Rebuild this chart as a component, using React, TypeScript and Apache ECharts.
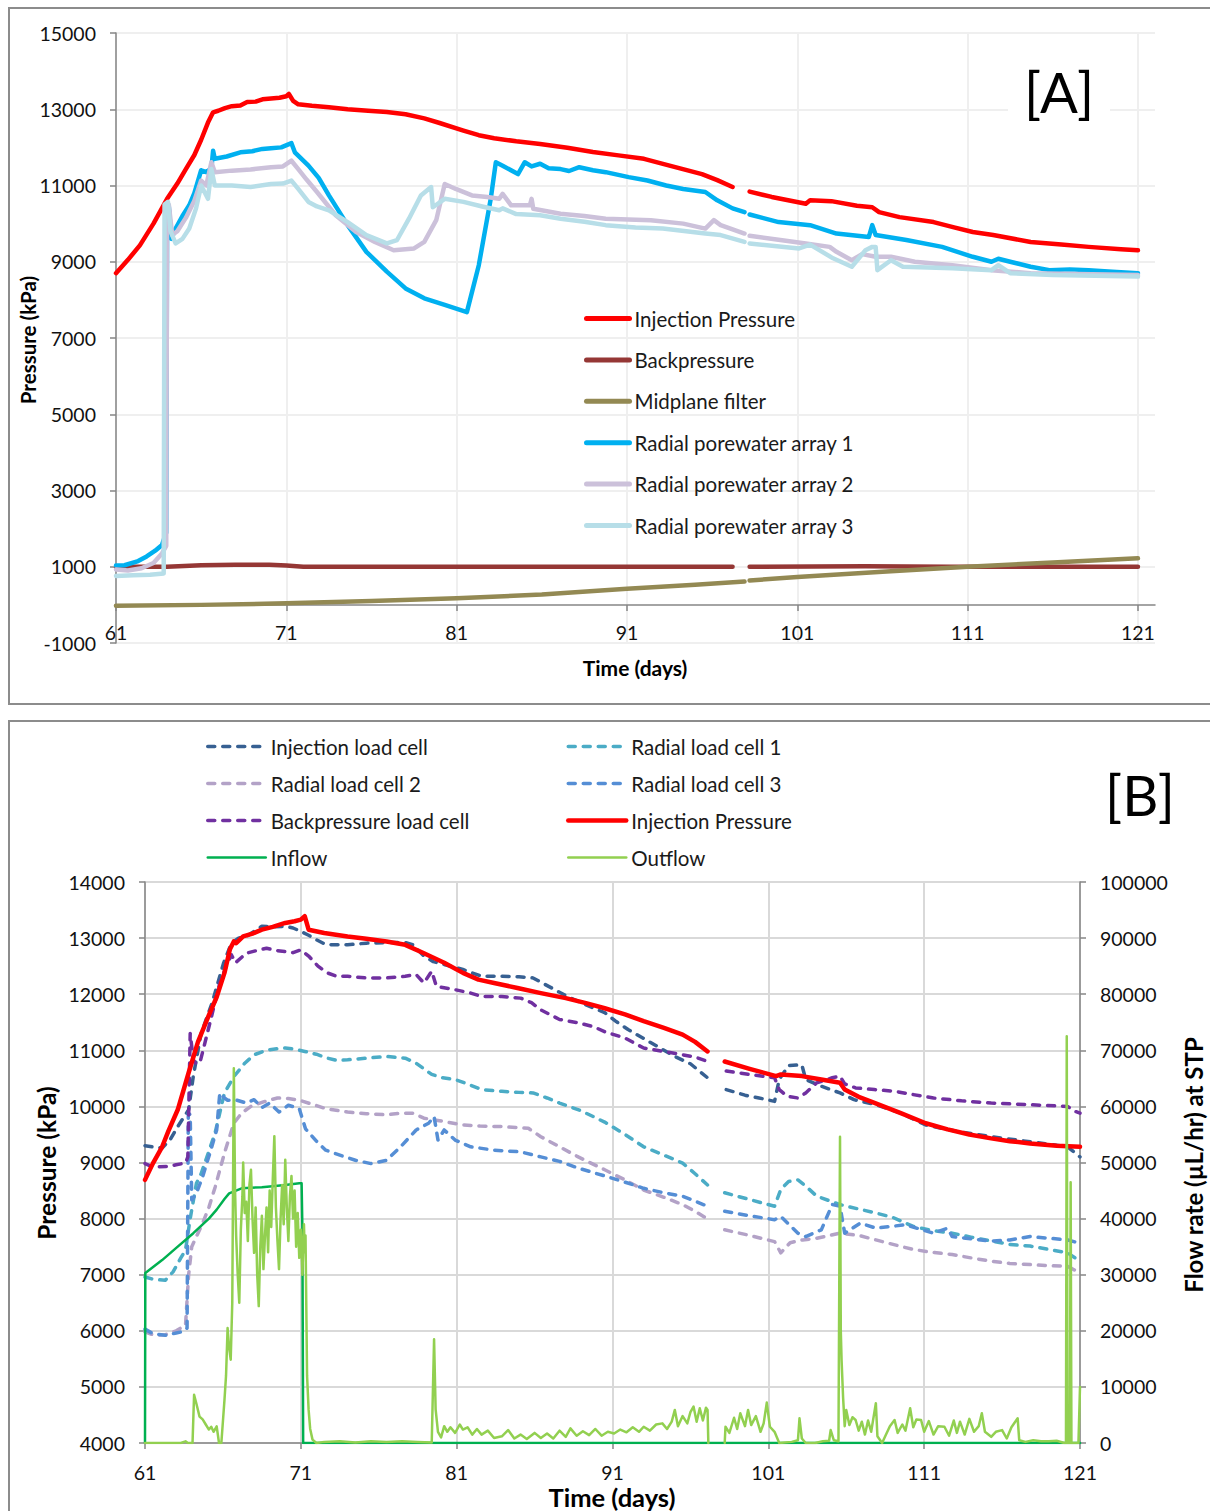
import React, { useEffect, useRef } from 'react';
import * as echarts from 'echarts';

const FONT = 'Lato, "Open Sans", "DejaVu Sans", sans-serif';

// ---------- Panel A (days, kPa) ----------
const aTicksX = [61, 71, 81, 91, 101, 111, 121];

const aInjection = [
  [61, 8700], [61.7, 9050], [62.4, 9430], [63.2, 10000], [64.0, 10650], [64.6, 11050], [65.1, 11430],
  [65.6, 11800], [66.0, 12200], [66.4, 12650], [66.7, 12920], [67.0, 12960], [67.4, 13030], [67.8, 13080],
  [68.3, 13100], [68.7, 13190], [69.2, 13200], [69.6, 13260], [70.1, 13280], [70.6, 13300], [71.0, 13340],
  [71.15, 13400], [71.4, 13220], [71.7, 13130], [72.5, 13090], [73.5, 13050], [74.6, 13000], [75.8, 12960],
  [76.9, 12930], [78.0, 12870], [79.1, 12760], [80.0, 12640], [81.4, 12440], [82.3, 12320], [83.2, 12240],
  [84.5, 12160], [85.9, 12090], [87.5, 11990], [89.0, 11880], [90.5, 11790], [92.0, 11700], [93.5, 11520],
  [95.4, 11300], [96.3, 11140], [97.2, 10960], [97.7, null], [98.2, 10840], [99.5, 10700], [101.5, 10520],
  [101.75, 10610], [103.0, 10590], [104.5, 10470], [105.4, 10430], [105.8, 10300], [107.0, 10170],
  [109.0, 10040], [110.2, 9900], [111.3, 9780], [112.5, 9700], [114.7, 9520], [116.5, 9450], [118.1, 9390],
  [120.0, 9330], [121.0, 9300],
];

const aBackpressure = [
  [61, 980], [62, 1000], [64, 1000], [66, 1040], [68, 1050], [70, 1050], [71, 1030], [72, 1000], [80, 1000],
  [90, 1000], [97.2, 1000], [97.7, null], [98.2, 1000], [105, 1010], [110, 1000], [121, 1000],
];

const aMidplane = [
  [61, -20], [66, 0], [71, 40], [76, 100], [81, 175], [86, 270], [91, 420], [95, 530], [97.9, 610], [98.0, null],
  [98.2, 640], [101, 730], [106, 870], [111, 1000], [116, 1110], [121, 1220],
];

const aArray1 = [
  [61, 1030], [61.5, 1040], [62.3, 1150], [62.8, 1270], [63.3, 1420], [63.7, 1570], [63.95, 1900], [64.0, 10350],
  [64.1, 10450], [64.25, 9600], [64.5, 9870], [64.9, 10200], [65.3, 10480], [65.6, 10800], [66.0, 11400],
  [66.3, 11350], [66.6, 11450], [66.7, 11910], [66.8, 11700], [67.5, 11760], [68.3, 11870], [69.0, 11900],
  [69.6, 11960], [70.1, 11980], [70.7, 12000], [71.3, 12110], [71.5, 11870], [72.3, 11520], [72.9, 11200],
  [73.5, 10740], [74.6, 9960], [75.7, 9260], [76.9, 8740], [78.0, 8300], [79.1, 8040], [80.3, 7870],
  [81.6, 7680], [82.3, 8910], [83.0, 10650], [83.3, 11610], [83.7, 11520], [84.6, 11300], [85.0, 11610],
  [85.4, 11500], [85.9, 11570], [86.4, 11450], [87.1, 11430], [87.6, 11380], [88.2, 11480], [89.0, 11400],
  [89.75, 11350], [91.1, 11220], [92.2, 11130], [93.3, 11000], [94.3, 10910], [95.6, 10830], [96.3, 10610],
  [97.2, 10400], [97.9, 10300], [98.0, null], [98.2, 10240], [99.9, 10040], [101.75, 9960], [103.3, 9740],
  [105.2, 9650], [105.4, 9960], [105.6, 9700], [107.4, 9570], [109.5, 9390], [111.3, 9130], [112.4, 9000],
  [112.8, 9080], [113.5, 9000], [114.7, 8870], [115.8, 8780], [117.0, 8800], [118.1, 8780], [119.5, 8740],
  [121.0, 8700],
];

const aArray2 = [
  [61, 930], [61.7, 900], [62.5, 960], [63.2, 1100], [63.7, 1350], [63.95, 1550], [64.0, 10400], [64.1, 10500],
  [64.3, 9700], [64.6, 9800], [65.1, 10150], [65.6, 10600], [66.0, 11130], [66.3, 11000], [66.6, 11610],
  [66.8, 11350], [67.8, 11390], [68.9, 11420], [70.1, 11480], [70.8, 11500], [71.3, 11650], [71.7, 11430],
  [72.2, 11150], [72.8, 10830], [73.9, 10220], [75.1, 9780], [76.2, 9520], [77.3, 9300], [78.5, 9350],
  [79.1, 9520], [79.8, 10090], [80.3, 11040], [80.95, 10910], [81.9, 10740], [82.8, 10700], [83.5, 10650],
  [83.7, 10780], [84.2, 10480], [85.3, 10480], [85.4, 10650], [85.5, 10390], [87.1, 10260], [88.5, 10200],
  [89.75, 10130], [92.4, 10090], [94.3, 10000], [95.6, 9870], [96.1, 10090], [96.5, 9960], [97.9, 9740],
  [98.0, null], [98.2, 9680], [100.0, 9570], [101.5, 9480], [102.9, 9390], [103.3, 9260], [104.2, 9040],
  [104.8, 9200], [105.6, 9130], [106.5, 9130], [107.9, 9000], [110.1, 8910], [112.4, 8780], [114.7, 8700],
  [121.0, 8650],
];

const aArray3 = [
  [61, 760], [62, 780], [63, 790], [63.8, 820], [63.85, 10500], [64.05, 10570], [64.2, 9800], [64.5, 9480],
  [64.9, 9600], [65.3, 9870], [65.7, 10400], [66.0, 11000], [66.4, 10650], [66.6, 11430], [66.8, 11000],
  [67.8, 11000], [68.9, 10960], [70.1, 11040], [70.8, 11050], [71.3, 11130], [71.7, 10910], [72.3, 10570],
  [72.8, 10450], [73.5, 10350], [74.6, 10040], [75.7, 9700], [76.9, 9480], [77.5, 9570], [78.2, 10130],
  [78.9, 10740], [79.5, 10960], [79.6, 10430], [80.3, 10650], [81.4, 10570], [82.5, 10450], [83.5, 10350],
  [83.7, 10400], [84.5, 10250], [85.9, 10220], [87.1, 10130], [88.5, 10050], [89.75, 9960], [91.5, 9900],
  [93.1, 9870], [95.6, 9740], [96.5, 9700], [97.9, 9520], [98.0, null], [98.2, 9480], [101.1, 9350],
  [101.75, 9450], [103.1, 9090], [104.2, 8870], [105.0, 9300], [105.4, 9390], [105.6, 9390], [105.7, 8780],
  [106.5, 9040], [107.2, 8870], [110.1, 8830], [112.4, 8780], [112.8, 8910], [113.5, 8700], [116, 8650],
  [121.0, 8610],
];

// ---------- Panel B (days, kPa / uL/hr) ----------
const bInjLoad = [
  [61, 9300], [61.5, 9280], [62.1, 9260], [62.6, 9400], [63.1, 9640], [63.8, 9940], [64.1, 10540], [64.6, 11300],
  [65.3, 11840], [66.05, 12560], [66.55, 12910], [67.0, 13000], [67.5, 13030], [68.0, 13120], [68.5, 13210],
  [69.2, 13200], [70.0, 13210], [70.5, 13180], [71.0, 13120], [71.5, 13050], [72.0, 12970], [72.5, 12900],
  [73.0, 12880], [74.0, 12880], [75.2, 12910], [76.5, 12920], [77.7, 12920], [78.2, 12880], [78.9, 12680],
  [79.5, 12580], [80.2, 12530], [81.4, 12440], [82.0, 12380], [82.6, 12320], [83.9, 12320], [85.0, 12310],
  [85.9, 12290], [86.9, 12140], [88.1, 11960], [89.3, 11810], [90.5, 11670], [91.2, 11520], [92.0, 11370],
  [93.5, 11130], [95.0, 10890], [96.0, 10760], [97.1, 10510], [97.7, null], [98.3, 10300], [99.5, 10200],
  [100.4, 10150], [101.4, 10090], [101.7, 10480], [102.3, 10730], [103.15, 10740], [103.4, 10480],
  [104.4, 10360], [105.6, 10240], [106.5, 10120], [107.9, 10030], [109.5, 9880], [111.1, 9670], [113.0, 9560],
  [115.3, 9460], [117.8, 9370], [120.2, 9280], [121, 9100],
];

const bRad1 = [
  [61, 6960], [61.5, 6920], [62.3, 6900], [62.8, 7050], [63.3, 7300], [63.6, 7440], [63.9, 8000], [64.3, 8630],
  [64.6, 8800], [64.9, 9040], [65.5, 9530], [66.1, 10240], [66.7, 10530], [67.4, 10770], [68.0, 10920],
  [68.8, 11000], [69.5, 11030], [70.0, 11040], [70.6, 11020], [71.25, 10980],
  [72.0, 10930], [72.7, 10860], [73.3, 10820], [74.0, 10830], [75.2, 10860], [76.5, 10890], [77.7, 10860],
  [78.4, 10770], [79.0, 10650], [79.4, 10570], [80.1, 10510], [80.9, 10480], [81.7, 10400], [82.6, 10300],
  [83.9, 10270], [85.0, 10250], [85.9, 10240], [86.8, 10150], [87.6, 10060], [89.0, 9920], [90.5, 9720],
  [91.8, 9500], [93.0, 9280], [94.3, 9130], [95.5, 8990], [96.3, 8800], [97.1, 8600], [97.7, null],
  [98.2, 8460], [99.8, 8340], [101.4, 8220], [101.8, 8520], [102.3, 8660], [102.9, 8690], [103.4, 8580],
  [104.1, 8400], [105.6, 8250], [106.8, 8170], [107.9, 8100], [109.0, 8020], [110.3, 7860], [111.5, 7790],
  [112.8, 7740], [114.0, 7670], [115.3, 7600], [116.5, 7540], [117.8, 7510], [119.0, 7450], [120.2, 7390],
  [121, 7240],
];

const bRad2 = [
  [61, 5980], [61.6, 5920], [62.3, 5930], [63.0, 6000], [63.6, 6100], [63.8, 7000], [64.0, 7500], [64.7, 7920],
  [65.1, 8200], [65.5, 8560], [66.1, 9170], [66.7, 9700], [67.2, 9880], [67.8, 10000],
  [68.6, 10080], [69.5, 10150], [70.2, 10140], [70.9, 10110], [71.6, 10050], [72.6, 9960], [74.0, 9900],
  [75.2, 9870], [76.5, 9850], [77.5, 9880], [78.2, 9880], [78.9, 9790], [80.2, 9730], [81.4, 9670],
  [82.5, 9650], [83.9, 9640], [85.6, 9610], [86.4, 9460], [87.6, 9280], [88.8, 9100], [90.5, 8870],
  [91.8, 8690], [93.0, 8510], [94.3, 8380], [95.5, 8250], [96.3, 8130], [97.0, 8010], [97.7, null],
  [98.2, 7800], [99.8, 7700], [101.4, 7590], [101.8, 7390], [102.4, 7570], [103.2, 7620], [104.1, 7650],
  [105.6, 7740], [106.8, 7700], [107.9, 7620], [109.0, 7540], [110.3, 7450], [111.5, 7400], [112.8, 7360],
  [114.0, 7300], [115.3, 7240], [116.5, 7200], [117.8, 7180], [119.0, 7160], [120.2, 7150], [121, 7030],
];

const bRad3 = [
  [61, 6030], [61.5, 5950], [62.3, 5920], [63.0, 5960], [63.5, 5990], [63.7, 6050], [63.78, 9880], [63.9, 9850],
  [64.0, 8330], [64.3, 8450], [64.7, 8750], [65.2, 9200], [65.6, 9580], [65.8, 10240], [66.1, 10150],
  [66.3, 10110], [66.9, 10110], [67.5, 10060], [68.0, 10120], [68.5, 9980], [69.0, 10060], [69.6, 9900],
  [70.2, 10020], [70.9, 9960], [71.3, 9600], [72.0, 9380], [72.6, 9220], [73.2, 9160], [74.5, 9040],
  [75.5, 8980], [76.5, 9040],
  [77.4, 9280], [78.4, 9580], [79.2, 9700], [79.55, 9820], [79.8, 9400], [80.2, 9580], [80.9, 9400],
  [81.9, 9280], [83.4, 9220], [85.1, 9190], [86.4, 9100], [87.6, 9020], [88.8, 8900], [90.5, 8760],
  [91.8, 8650], [93.0, 8540], [94.3, 8460], [95.5, 8400], [97.1, 8220], [97.7, null], [98.2, 8130],
  [99.8, 8050], [101.4, 7980], [101.8, 8040], [102.9, 7740], [103.4, 7680], [104.4, 7800], [105.1, 8250],
  [105.6, 8220], [105.9, 7740], [106.9, 7920], [107.9, 7830], [109.8, 7890], [111.6, 7740], [112.5, 7830],
  [112.8, 7680], [114.0, 7640], [115.3, 7600], [116.5, 7620], [117.8, 7680], [119.0, 7650], [120.2, 7620],
  [121, 7560],
];

const bBackLoad = [
  [61, 8980], [61.5, 8920], [62.5, 8930], [63.0, 8960], [63.6, 8990], [63.75, 9100], [63.9, 11300], [64.1, 10830],
  [64.3, 10750], [64.57, 10830], [65.06, 11370], [65.8, 12200], [66.3, 12560], [66.55, 12700], [66.8, 12560],
  [67.5, 12730], [68.2, 12780], [68.8, 12820], [69.4, 12780], [70.0, 12760], [70.5, 12740], [71.0, 12790],
  [71.5, 12680], [72.1, 12500], [72.7, 12380], [73.3, 12320], [74.0, 12320], [75.2, 12290], [76.5, 12290],
  [77.7, 12320], [78.4, 12350], [78.9, 12200], [79.4, 12410], [79.7, 12140], [80.9, 12080], [81.9, 12020],
  [82.6, 11960], [83.9, 11960], [85.1, 11930], [85.8, 11850], [86.4, 11720], [87.6, 11550], [88.8, 11490],
  [89.8, 11420], [90.5, 11330], [91.8, 11220], [93.0, 11040], [94.3, 10980], [95.5, 10920], [96.3, 10880],
  [97.1, 10800], [97.7, null], [98.3, 10630], [99.8, 10570], [101.4, 10510], [101.7, 10300], [102.2, 10180],
  [102.9, 10150], [103.4, 10240], [104.1, 10420], [105.1, 10510], [105.6, 10540], [105.9, 10400],
  [106.6, 10330], [107.8, 10300], [109.1, 10270], [110.3, 10210], [111.6, 10150], [113.4, 10100],
  [115.3, 10060], [117.8, 10030], [120.2, 10000], [120.7, 9910], [121, 9880],
];

const bInjPressure = [
  [61, 8690], [61.5, 8980], [62.1, 9280], [62.5, 9560], [63.1, 9940], [63.8, 10600], [64.4, 11150], [65.06, 11600],
  [65.6, 11950], [66.1, 12380], [66.45, 12800], [66.7, 12940], [66.85, 12910], [67.3, 13030], [67.9, 13080],
  [68.5, 13150], [69.2, 13200], [70.0, 13270], [70.6, 13300], [71.0, 13330], [71.25, 13390], [71.5, 13150],
  [72.5, 13090], [74.0, 13030], [75.2, 12990], [76.5, 12940], [77.7, 12880], [78.9, 12730], [80.2, 12560],
  [81.4, 12380], [82.4, 12260], [83.4, 12200], [84.9, 12110], [86.4, 12020], [88.0, 11930], [89.3, 11840],
  [90.5, 11750], [91.8, 11640], [93.0, 11520], [94.3, 11400], [95.5, 11280], [96.3, 11150], [97.1, 10980],
  [97.7, null], [98.2, 10800], [99.8, 10670], [101.5, 10540], [101.8, 10570], [103.15, 10540], [104.4, 10480],
  [105.6, 10420], [105.9, 10300], [106.8, 10170], [107.85, 10060], [109.5, 9880], [111.1, 9700],
  [112.5, 9590], [113.9, 9500], [115.3, 9430], [116.5, 9380], [117.8, 9340], [119.5, 9300], [121, 9280],
];

const bInflow = [
  [61, 0], [61.02, 30300], [62.1, 32600], [63.1, 35000], [64.1, 37400], [65.1, 40000], [65.6, 41600],
  [66.1, 43500], [66.4, 44500], [67.2, 45400], [68.5, 45600], [70.0, 46000], [70.9, 46300], [71.05, 46300],
  [71.1, 38000], [71.15, 0], [80, 0], [90, 0], [100, 0], [110, 0], [121, 0],
];

const bOutflow = [
  [61, 0], [63.3, 0], [63.6, 300], [63.75, 0], [64.05, 0], [64.15, 8600], [64.3, 7000], [64.5, 4700], [64.7, 4200],
  [64.9, 3300], [65.1, 2400], [65.25, 2900], [65.4, 2000], [65.6, 2970], [65.75, 0], [65.9, 0], [66.1, 7700],
  [66.2, 12000], [66.3, 20500], [66.4, 17000], [66.5, 14850], [66.6, 25000], [66.7, 66800], [66.78, 45000],
  [66.85, 36900], [66.95, 30000], [67.05, 25000], [67.15, 38000], [67.25, 44000], [67.3, 50000], [67.4, 41000],
  [67.5, 43000], [67.6, 36000], [67.7, 46000], [67.8, 48700], [67.9, 40000], [68.0, 33900], [68.1, 42000],
  [68.2, 30000], [68.3, 24400], [68.4, 35000], [68.5, 40500], [68.6, 31000], [68.7, 37000], [68.8, 42000],
  [68.9, 34000], [69.0, 45000], [69.1, 38500], [69.2, 47000], [69.3, 54700], [69.4, 42000], [69.5, 36000],
  [69.6, 31000], [69.7, 40000], [69.8, 46000], [69.9, 39000], [70.0, 50500], [70.1, 42000], [70.2, 36000],
  [70.3, 44000], [70.4, 47600], [70.5, 40000], [70.6, 45000], [70.7, 35000], [70.8, 41000], [70.9, 33000],
  [71.0, 38000], [71.1, 30000], [71.2, 39000], [71.25, 34000], [71.3, 37000], [71.4, 12000], [71.5, 5900],
  [71.6, 2500], [71.75, 600], [72.0, 0], [72.5, 200], [73.5, 300], [74.5, 100], [75.5, 300], [76.5, 200],
  [77.5, 300], [78.5, 200], [79.4, 100], [79.55, 18500], [79.65, 6000], [79.8, 2000], [80.0, 1000],
  [80.2, 3000], [80.4, 2000], [80.6, 2800], [80.9, 1800], [81.2, 3300], [81.4, 2400], [81.7, 2800],
  [82.0, 1500], [82.3, 2500], [82.6, 1500], [83.0, 2200], [83.4, 900], [83.9, 1200], [84.3, 2300], [84.7, 800],
  [85.1, 1500], [85.5, 700], [86.0, 1800], [86.4, 900], [86.8, 1700], [87.2, 800], [87.6, 2200], [88.0, 1100],
  [88.3, 2600], [88.7, 1300], [89.1, 2100], [89.5, 1400], [89.9, 2500], [90.3, 1300], [90.7, 2000],
  [91.1, 1700], [91.5, 2400], [91.9, 1900], [92.3, 2800], [92.7, 2000], [93.0, 2900], [93.4, 2200],
  [93.8, 3300], [94.2, 3500], [94.5, 2500], [94.8, 3800], [95.0, 5900], [95.2, 3000], [95.5, 4800],
  [95.8, 3500], [96.0, 5500], [96.2, 6500], [96.4, 3800], [96.6, 6200], [96.8, 4000], [97.0, 6300],
  [97.1, 5900], [97.15, 0], [97.6, null], [98.2, 0], [98.25, 2900], [98.5, 1800], [98.8, 4500], [99.0, 2500],
  [99.2, 5300], [99.5, 3000], [99.7, 5900], [99.9, 3200], [100.2, 4800], [100.5, 2000], [100.7, 3500],
  [100.9, 7200], [101.1, 2900], [101.4, 2000], [101.7, 0], [102.5, 200], [102.9, 500], [103.0, 4400],
  [103.15, 800], [103.4, 0], [104.0, 0], [104.5, 300], [104.9, 400], [105.0, 2300], [105.2, 500], [105.5, 300],
  [105.6, 54600], [105.65, 20000], [105.7, 14800], [105.8, 8000], [105.9, 3000], [106.0, 5900], [106.2, 3200],
  [106.4, 4600], [106.6, 4100], [106.8, 2200], [107.0, 3800], [107.2, 1500], [107.4, 4000], [107.6, 2000],
  [107.9, 7100], [108.0, 1200], [108.3, 0], [108.5, 1200], [108.8, 3000], [109.1, 4100], [109.3, 1800],
  [109.6, 3300], [109.8, 2200], [110.1, 6200], [110.3, 2800], [110.5, 4200], [110.8, 4100], [111.0, 2000],
  [111.3, 3900], [111.6, 1500], [111.9, 3000], [112.3, 2900], [112.6, 1300], [112.9, 4000], [113.1, 1800],
  [113.3, 3800], [113.6, 1500], [113.9, 4300], [114.2, 2000], [114.5, 3000], [114.7, 5300], [114.9, 2000],
  [115.3, 1100], [115.6, 2000], [116.0, 2300], [116.3, 800], [116.6, 2800], [117.0, 4400], [117.1, 500],
  [117.5, 200], [118.0, 500], [118.5, 300], [119.0, 300], [119.5, 400], [120.0, 0], [120.1, 0], [120.15, 72500],
  [120.2, 0], [120.35, 0], [120.4, 46500], [120.45, 0], [120.9, 0], [121, 10000],
];

const legendA = ['Injection Pressure', 'Backpressure', 'Midplane filter', 'Radial porewater array 1', 'Radial porewater array 2', 'Radial porewater array 3'];
const legendB1 = ['Injection load cell', 'Radial load cell 2', 'Backpressure load cell', 'Inflow'];
const legendB2 = ['Radial load cell 1', 'Radial load cell 3', 'Injection Pressure', 'Outflow'];

const AXIS = '#868686';
const DASH = [7, 8];

function lineA(name: string, data: any[], color: string) {
  return {
    name, type: 'line', xAxisIndex: 0, yAxisIndex: 0, data, symbol: 'none', showSymbol: false,
    lineStyle: { color, width: 4.5, cap: 'round', join: 'round' }, itemStyle: { color },
  };
}
function lineB(name: string, data: any[], color: string, yIdx: number, width: number, dashed: boolean) {
  return {
    name, type: 'line', xAxisIndex: 1, yAxisIndex: yIdx, data, symbol: 'none', showSymbol: false,
    lineStyle: { color, width, type: dashed ? DASH : 'solid', cap: 'round', join: 'round' }, itemStyle: { color },
  };
}

const plain = (v: number) => String(v);
const labelStyle = { fontFamily: FONT, fontSize: 19.5, color: '#111', formatter: plain };
const hiddenSymbol = { color: 'rgba(0,0,0,0)', borderWidth: 0, opacity: 0 };

function buildOption() {
  const widthsB: Record<string, number> = { 'Injection Pressure': 4.5, Inflow: 2.5, Outflow: 2.5 };
  const legendText = (size: number) => ({ fontFamily: FONT, fontSize: size, color: '#1a1a1a', lineHeight: 20 });
  const title = (text: string, x: number, y: number, size: number, rot: number) => ({
    type: 'text', z: 100, x, y, rotation: rot, silent: true,
    style: { text, fontFamily: FONT, fontWeight: 'bold', fontSize: size, fill: '#000', align: 'center', verticalAlign: 'middle', textAlign: 'center', textVerticalAlign: 'middle' },
  });
  return {
    animation: false,
    backgroundColor: '#ffffff',
    textStyle: { fontFamily: FONT },
    grid: [
      { left: 116, top: 33, width: 1039, height: 610, containLabel: false, outerBoundsMode: 'none' },
      { left: 145, top: 882, width: 935, height: 561, containLabel: false, outerBoundsMode: 'none' },
    ],
    xAxis: [
      {
        type: 'value', gridIndex: 0, min: 61, max: 122, interval: 10, position: 'bottom', offset: -38.125,
        axisLine: { show: true, onZero: false, lineStyle: { color: AXIS, width: 1.5 } },
        axisTick: { show: true, length: 6, customValues: aTicksX, lineStyle: { color: AXIS, width: 1.5 } },
        axisLabel: { ...labelStyle, margin: 18, customValues: aTicksX, formatter: (v: number) => ((v - 61) % 10 === 0 ? String(v) : '') },
        splitLine: {
          show: true, customValues: aTicksX,
          lineStyle: { color: ['#EFEFEF', '#EFEFEF', '#EFEFEF', '#EFEFEF', '#EFEFEF', '#EFEFEF', '#EFEFEF', 'rgba(0,0,0,0)'], width: 2 },
        },
      },
      {
        type: 'value', gridIndex: 1, min: 61, max: 121, interval: 10,
        axisLine: { show: true, onZero: false, lineStyle: { color: AXIS, width: 1.5 } },
        axisTick: { show: true, length: 6, lineStyle: { color: AXIS, width: 1.5 } },
        axisLabel: { ...labelStyle, margin: 19 },
        splitLine: { show: true, lineStyle: { color: '#D9D9D9', width: 2 } },
      },
    ],
    yAxis: [
      {
        type: 'value', gridIndex: 0, min: -1000, max: 15000, interval: 2000,
        axisLine: { show: true, onZero: false, lineStyle: { color: AXIS, width: 1.5 } },
        axisTick: { show: true, length: 6, lineStyle: { color: AXIS, width: 1.5 } },
        axisLabel: { ...labelStyle, margin: 20 },
        splitLine: { show: true, lineStyle: { color: '#EFEFEF', width: 2 } },
      },
      {
        type: 'value', gridIndex: 1, position: 'left', min: 4000, max: 14000, interval: 1000,
        axisLine: { show: true, onZero: false, lineStyle: { color: AXIS, width: 1.5 } },
        axisTick: { show: true, length: 6, lineStyle: { color: AXIS, width: 1.5 } },
        axisLabel: { ...labelStyle, margin: 20 },
        splitLine: { show: true, lineStyle: { color: '#D9D9D9', width: 2 } },
      },
      {
        type: 'value', gridIndex: 1, position: 'right', min: 0, max: 100000, interval: 10000,
        axisLine: { show: true, onZero: false, lineStyle: { color: AXIS, width: 1.5 } },
        axisTick: { show: true, length: 6, lineStyle: { color: AXIS, width: 1.5 } },
        axisLabel: { ...labelStyle, margin: 20 },
        splitLine: { show: false },
      },
    ],
    legend: [
      {
        orient: 'vertical', left: 584, top: 308, padding: 0, itemWidth: 43, itemHeight: 20, itemGap: 20.4,
        selectedMode: false, textStyle: legendText(20.5),
        data: legendA.map((name) => ({ name, lineStyle: { width: 5 }, itemStyle: hiddenSymbol })),
      },
      {
        orient: 'vertical', left: 206, top: 736, padding: 0, itemWidth: 58, itemHeight: 20, itemGap: 16,
        selectedMode: false, textStyle: legendText(20.5),
        data: legendB1.map((name) => ({ name, lineStyle: { width: widthsB[name] ?? 3.5 }, itemStyle: hiddenSymbol })),
      },
      {
        orient: 'vertical', left: 566, top: 736, padding: 0, itemWidth: 58, itemHeight: 20, itemGap: 16,
        selectedMode: false, textStyle: legendText(20.5),
        data: legendB2.map((name) => ({ name, lineStyle: { width: widthsB[name] ?? 3.5 }, itemStyle: hiddenSymbol })),
      },
    ],
    series: [
      lineA('Injection Pressure', aInjection, '#FF0000'),
      lineA('Backpressure', aBackpressure, '#953735'),
      lineA('Midplane filter', aMidplane, '#938953'),
      lineA('Radial porewater array 1', aArray1, '#00B0F0'),
      lineA('Radial porewater array 2', aArray2, '#CCC1DA'),
      lineA('Radial porewater array 3', aArray3, '#B7DEE8'),
      lineB('Injection load cell', bInjLoad, '#376092', 1, 3.5, true),
      lineB('Radial load cell 1', bRad1, '#4BACC6', 1, 3.5, true),
      lineB('Radial load cell 2', bRad2, '#B3A2C7', 1, 3.5, true),
      lineB('Radial load cell 3', bRad3, '#558ED5', 1, 3.5, true),
      lineB('Backpressure load cell', bBackLoad, '#7030A0', 1, 3.5, true),
      lineB('Injection Pressure', bInjPressure, '#FF0000', 1, 4.5, false),
      lineB('Inflow', bInflow, '#00B050', 2, 2.5, false),
      lineB('Outflow', bOutflow, '#92D050', 2, 2.5, false),
    ],
    graphic: [
      { type: 'rect', z: 0, silent: true, shape: { x: 9, y: 8, width: 1220, height: 696 }, style: { fill: 'none', stroke: '#8C8C8C', lineWidth: 2 } },
      { type: 'rect', z: 0, silent: true, shape: { x: 9, y: 721, width: 1220, height: 820 }, style: { fill: 'none', stroke: '#8C8C8C', lineWidth: 2 } },
      {
        type: 'text', z: 100, x: 1059, y: 91, silent: true,
        style: { text: '[A]', fontFamily: FONT, fontSize: 56, fill: '#000', backgroundColor: '#fff', padding: [0, 16], align: 'center', verticalAlign: 'middle', textAlign: 'center', textVerticalAlign: 'middle' },
      },
      {
        type: 'text', z: 100, x: 1140, y: 794, silent: true,
        style: { text: '[B]', fontFamily: FONT, fontSize: 56, fill: '#000', align: 'center', verticalAlign: 'middle', textAlign: 'center', textVerticalAlign: 'middle' },
      },
      title('Pressure (kPa)', 28, 340, 20.5, Math.PI / 2),
      title('Time (days)', 635, 667, 21, 0),
      title('Pressure (kPa)', 46, 1163, 24.5, Math.PI / 2),
      title('Time (days)', 612, 1497, 25.5, 0),
      title('Flow rate (µL/hr) at STP', 1193, 1165, 24, Math.PI / 2),
    ],
  };
}

export default function App() {
  const ref = useRef<HTMLDivElement>(null);
  useEffect(() => {
    document.body.style.margin = '0';
    if (!ref.current) return;
    const chart = echarts.init(ref.current, null, { renderer: 'svg' });
    chart.setOption(buildOption() as any);
    return () => chart.dispose();
  }, []);
  return <div ref={ref} style={{ width: 1210, height: 1511, background: '#fff' }} />;
}
